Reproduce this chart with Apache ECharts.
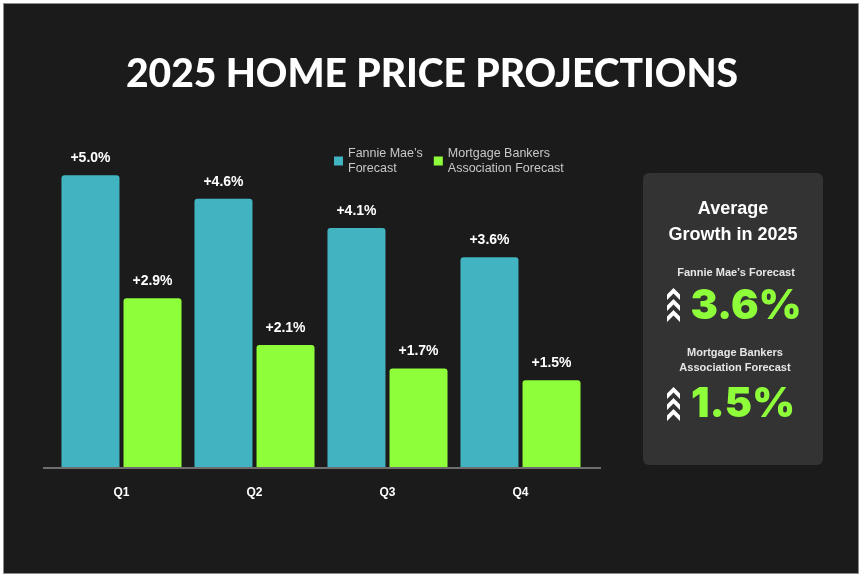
<!DOCTYPE html>
<html>
<head>
<meta charset="utf-8">
<script src="https://cdn.jsdelivr.net/npm/echarts@6/dist/echarts.min.js"></script>
<style>
    html, body { margin: 0; padding: 0; background: #fff; }
    #box1 { width: 864px; height: 578px; }
</style>
</head>
<body>
<div id="box1"></div>
<script>
var quarters = ['Q1', 'Q2', 'Q3', 'Q4'];
var fannieMae = [5.0, 4.6, 4.1, 3.6];
var mortgageBankers = [2.9, 2.1, 1.7, 1.5];
var seriesNames = ['Fannie Mae\u2019s\nForecast', 'Mortgage Bankers\nAssociation Forecast'];
var averageGrowth = [3.6, 1.5];
var averageLabels = [['Fannie Mae\u2019s Forecast'], ['Mortgage Bankers', 'Association Forecast']];

window.onload = function () {
    var myChart = echarts.init(document.getElementById('box1'));

    var teal = '#42b4c1';
    var green = '#8efd3a';

    // stack of three filled chevrons next to the big numbers
    function chevrons(x, y) {
        var out = [];
        for (var i = 0; i < 3; i++) {
            var t = y + i * 11;
            out.push({
                type: 'polygon',
                z: 20,
                shape: { points: [[x, t + 6.5], [x + 6.5, t], [x + 13, t + 6.5], [x + 13, t + 12], [x + 6.5, t + 5.5], [x, t + 12]] },
                style: { fill: '#fff' }
            });
        }
        return out;
    }

    function txt(str, x, y, size, family, color, weight) {
        return {
            type: 'text', z: 20, x: x, y: y,
            style: {
                text: str, fontSize: size, fontWeight: weight || 'bold', fontFamily: family,
                fill: color, align: 'center', verticalAlign: 'middle'
            }
        };
    }

    var sans = 'Liberation Sans';
    var heavy = 'Inter';

    var graphics = [
        {
            type: 'rect', z: -10,
            shape: { x: 3.5, y: 3.5, width: 855, height: 570 },
            style: { fill: '#1b1b1b', stroke: '#8c8c8c', lineWidth: 1 }
        },
        {
            type: 'line', z: 5,
            shape: { x1: 43, y1: 468, x2: 601, y2: 468 },
            style: { stroke: '#6e6e6e', lineWidth: 2 }
        },
        {
            type: 'rect', z: 10,
            shape: { x: 643, y: 173, width: 180, height: 292, r: 6 },
            style: { fill: '#333333' }
        },
        txt('Average', 733, 209, 18, sans, '#fff'),
        txt('Growth in 2025', 733, 235, 18, sans, '#fff'),
        txt(averageLabels[0][0], 736, 273, 11, sans, '#e6e6e6'),
        txt(averageGrowth[0].toFixed(1) + '%', 746, 307, 41, heavy, green, 900),
        txt(averageLabels[1][0], 735, 353, 11, sans, '#e6e6e6'),
        txt(averageLabels[1][1], 735, 368, 11, sans, '#e6e6e6'),
        txt(averageGrowth[1].toFixed(1) + '%', 743, 405, 41, heavy, green, 900)
    ].concat(chevrons(667, 288)).concat(chevrons(667, 387));

    function labelFmt(p) {
        return '+' + p.value.toFixed(1) + '%';
    }

    var option = {
        backgroundColor: '#ffffff',
        title: {
            text: '2025 HOME PRICE PROJECTIONS',
            left: 'center',
            top: 50,
            textStyle: {
                color: '#fff',
                fontFamily: 'Lato',
                fontWeight: 900,
                fontSize: 39
            }
        },
        legend: {
            left: 329,
            top: 141,
            itemWidth: 9,
            itemHeight: 9,
            itemGap: 11,
            icon: 'rect',
            textStyle: {
                color: '#c8c8c8',
                fontSize: 12.5,
                lineHeight: 15,
                fontFamily: sans
            },
            data: seriesNames
        },
        grid: {
            left: 55,
            right: 277,
            top: 146,
            bottom: 110
        },
        xAxis: {
            type: 'category',
            data: quarters,
            axisLine: { show: false },
            axisTick: { show: false },
            axisLabel: {
                color: '#fff',
                fontWeight: 'bold',
                fontSize: 12,
                margin: 19,
                fontFamily: sans
            }
        },
        yAxis: {
            type: 'value',
            min: 0,
            max: 5.5,
            show: false,
            splitLine: { show: false }
        },
        graphic: graphics,
        series: [{
            name: seriesNames[0],
            type: 'bar',
            data: fannieMae,
            barWidth: 58,
            barGap: '7%',
            itemStyle: { color: teal, borderRadius: [3, 3, 0, 0] },
            label: {
                show: true,
                position: 'top',
                distance: 10,
                formatter: labelFmt,
                color: '#fff',
                fontWeight: 'bold',
                fontSize: 14,
                fontFamily: sans
            }
        }, {
            name: seriesNames[1],
            type: 'bar',
            data: mortgageBankers,
            barWidth: 58,
            barGap: '7%',
            itemStyle: { color: green, borderRadius: [3, 3, 0, 0] },
            label: {
                show: true,
                position: 'top',
                distance: 10,
                formatter: labelFmt,
                color: '#fff',
                fontWeight: 'bold',
                fontSize: 14,
                fontFamily: sans
            }
        }]
    };

    myChart.setOption(option);
    window.addEventListener('resize', function () {
        myChart.resize();
    });
};
</script>
</body>
</html>
